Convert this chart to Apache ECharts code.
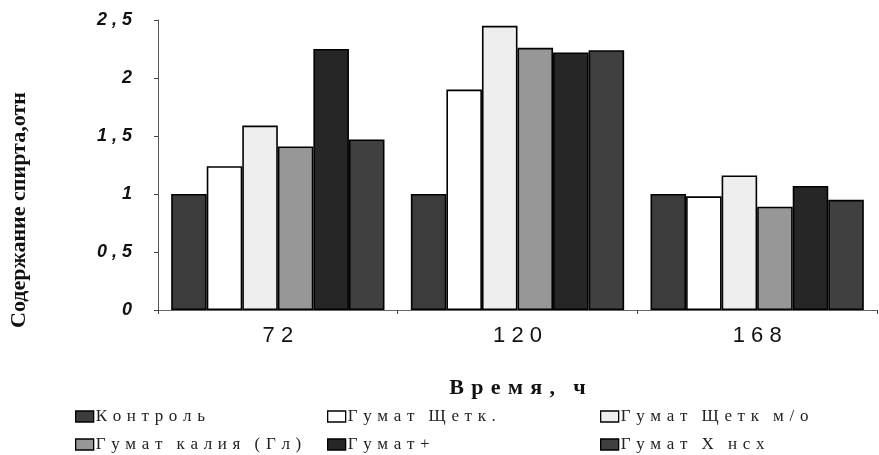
<!DOCTYPE html>
<html>
<head>
<meta charset="utf-8">
<script src="https://cdn.jsdelivr.net/npm/echarts@6/dist/echarts.min.js"></script>
<style>
  html, body { margin: 0; padding: 0; background: #fff; }
  #chart { width: 879px; height: 455px; }
</style>
</head>
<body>
<div id="chart"></div>
<script>
// time points, h
const categories = ["7 2", "1 2 0", "1 6 8"];

// series names
const seriesNames = [
  "Контроль",
  "Гумат Щетк.",
  "Гумат Щетк м/о",
  "Гумат калия (Гл)",
  "Гумат+",
  "Гумат Х нсх",
];

// relative alcohol content per series, for 72 / 120 / 168 h
const control = [1.0, 1.0, 1.0];
const humateShch = [1.24, 1.9, 0.98];
const humateShchMo = [1.59, 2.45, 1.16];
const humateKalia = [1.41, 2.26, 0.89];
const humatePlus = [2.25, 2.22, 1.07];
const humateX = [1.47, 2.24, 0.95];

const seriesValues = [control, humateShch, humateShchMo, humateKalia, humatePlus, humateX];
const fills = ["#3c3c3c", "#ffffff", "#eeeeee", "#979797", "#262626", "#404040"];

// the scan prints the text letter-spaced
const spaced = (s) =>
  s.split(" ").map((w) => w.split("").join("\u2004")).join("\u2002\u2004");

const chart = echarts.init(document.getElementById("chart"));

// legend laid out as a 3x2 grid, one legend per item
const legendPos = [
  [70, 403], [322, 403], [595, 403],
  [70, 431], [322, 431], [595, 431],
];
const legends = seriesNames.map((name, i) => ({
  data: [name],
  left: legendPos[i][0],
  top: legendPos[i][1],
  icon: "rect",
  itemWidth: 18,
  itemHeight: 11,
  selectedMode: false,
  formatter: spaced,
  textStyle: { fontFamily: "Liberation Serif", fontSize: 17, color: "#222", padding: [0, 0, 0, -3] },
  itemStyle: { borderColor: "#000", borderWidth: 1.3 },
}));

const option = {
  animation: false,
  backgroundColor: "#fff",
  grid: { left: 158, right: 2, top: 20, bottom: 145 },
  legend: legends,
  graphic: [{
    type: "text",
    x: 19,
    y: 210,
    rotation: Math.PI / 2,
    style: {
      text: "Содержание спирта,отн",
      font: "bold 22px 'Liberation Serif'",
      fill: "#111",
      align: "center",
      verticalAlign: "middle",
    },
  }],
  xAxis: {
    type: "category",
    data: categories,
    name: spaced("Время, ч"),
    nameLocation: "middle",
    nameGap: 67,
    nameTextStyle: { fontFamily: "Liberation Serif", fontWeight: "bold", fontSize: 22, color: "#111" },
    axisLine: { lineStyle: { color: "#666", width: 1 } },
    axisTick: { show: true, length: 4, lineStyle: { color: "#444" } },
    axisLabel: { margin: 15, fontFamily: "Liberation Sans", fontSize: 22, color: "#111" },
  },
  yAxis: {
    type: "value",
    min: 0,
    max: 2.5,
    interval: 0.5,
    axisLine: { show: true, lineStyle: { color: "#555", width: 1 } },
    axisTick: { show: true, length: 4, lineStyle: { color: "#444" } },
    splitLine: { show: false },
    axisLabel: {
      margin: 26,
      fontFamily: "Liberation Sans",
      fontStyle: "italic",
      fontWeight: "bold",
      fontSize: 18,
      color: "#111",
      formatter: (v) => String(v).replace(".", " , "),
    },
  },
  series: seriesValues.map((vals, i) => ({
    name: seriesNames[i],
    type: "bar",
    data: vals,
    barGap: "0%",
    barCategoryGap: "11%",
    itemStyle: { color: fills[i], borderColor: "#000", borderWidth: 1.6 },
  })),
};

chart.setOption(option);
</script>
</body>
</html>
